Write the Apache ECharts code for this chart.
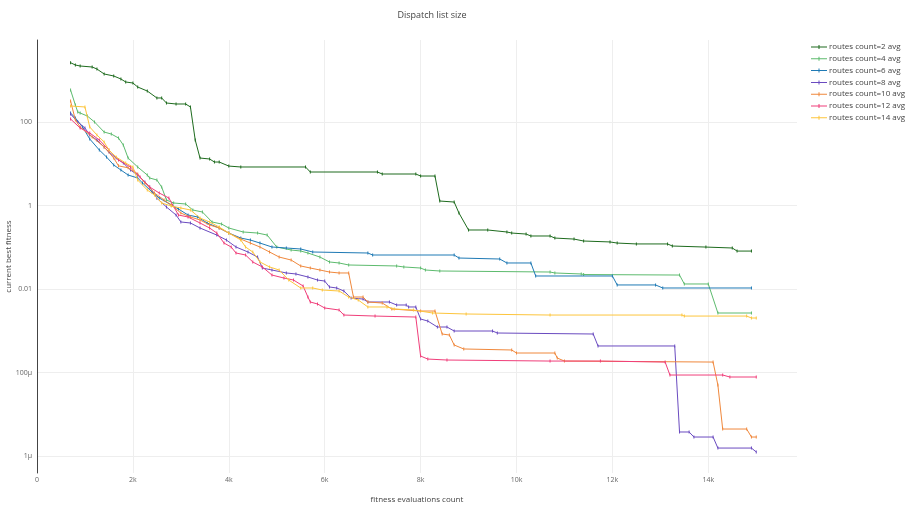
<!DOCTYPE html>
<html>
<head>
<meta charset="utf-8">
<script src="https://cdn.jsdelivr.net/npm/echarts@6/dist/echarts.min.js"></script>
<style>
  html, body { margin: 0; padding: 0; background: #fff; }
  #chart { width: 917px; height: 507px; }
</style>
</head>
<body>
<div id="chart"></div>
<script>
// Average best fitness per fitness-evaluation count, one run set per routes count.
const seriesNames = [
  'routes count=2 avg', 'routes count=4 avg', 'routes count=6 avg',
  'routes count=8 avg', 'routes count=10 avg', 'routes count=12 avg',
  'routes count=14 avg'
];
const seriesColors = ['#1e6b1e', '#5dbb6e', '#1f7ab5', '#6a4bc0', '#f0883c', '#f03e7a', '#fdc53c'];

const xTicks = [0, 2000, 4000, 6000, 8000, 10000, 12000, 14000];
const yTicks = [1e-6, 1e-4, 1e-2, 1, 100];

const routes2 = [[700,2630],[800,2317],[900,2193],[1150,2075],[1250,1858],[1400,1413],[1600,1265],[1750,1072],[1850,908],[2000,859],[2100,689],[2300,552],[2500,376],[2600,376],[2700,285],[2900,270],[3100,270],[3200,229],[3300,37],[3400,13.7],[3600,13.0],[3700,11.0],[3800,11.0],[4000,8.8],[4250,8.36],[5600,8.36],[5700,6.34],[7100,6.34],[7200,5.68],[7900,5.68],[8000,5.08],[8300,5.08],[8400,1.28],[8700,1.21],[8800,0.66],[9000,0.259],[9400,0.259],[9800,0.232],[9900,0.219],[10200,0.207],[10300,0.186],[10700,0.186],[10800,0.166],[11200,0.157],[11400,0.141],[11950,0.134],[12100,0.126],[12500,0.120],[13150,0.120],[13250,0.107],[13950,0.101],[14500,0.096],[14600,0.081],[14900,0.081]];

const routes4 = [[700,583],[800,255],[850,173],[900,164],[1050,139],[1200,100],[1400,57.5],[1550,51.5],[1700,41.4],[1800,28.1],[1900,13.7],[2100,8.36],[2300,5.37],[2350,4.56],[2500,4.08],[2600,2.77],[2700,1.355],[2850,1.148],[3100,1.086],[3250,0.78],[3450,0.698],[3650,0.403],[3850,0.36],[4000,0.289],[4300,0.232],[4600,0.219],[4800,0.196],[5000,0.1014],[5300,0.0859],[5500,0.0813],[5650,0.0728],[5900,0.0583],[6100,0.0444],[6300,0.042],[6500,0.0376],[7500,0.0356],[7650,0.0337],[8000,0.0318],[8100,0.0285],[8400,0.027],[10700,0.0255],[10800,0.0242],[11350,0.0229],[11400,0.0222],[13400,0.0216],[13500,0.0132],[14000,0.0132],[14200,0.00266],[14900,0.00266]];

const routes6 = [[700,164],[800,125],[950,75.9],[1100,39.2],[1300,21.3],[1450,14.5],[1600,9.33],[1750,7.08],[1900,5.37],[2100,4.56],[2200,3.46],[2400,2.10],[2550,1.51],[2800,1.03],[2950,0.824],[3150,0.592],[3350,0.53],[3550,0.381],[3800,0.289],[4000,0.219],[4250,0.166],[4450,0.149],[4650,0.126],[4900,0.1014],[5200,0.096],[5500,0.0908],[5750,0.0769],[6900,0.0728],[7000,0.0652],[8700,0.0652],[8800,0.0552],[9650,0.0523],[9800,0.042],[10300,0.042],[10400,0.0205],[12000,0.0205],[12100,0.0125],[12900,0.0125],[13050,0.01057],[14900,0.01057]];

const routes8 = [[700,155],[850,100],[1000,71.8],[1100,48.8],[1250,37.1],[1400,25.2],[1500,19.1],[1650,13.7],[1800,10.4],[1950,7.08],[2100,5.37],[2250,3.66],[2350,2.77],[2500,1.5],[2700,0.92],[2900,0.592],[3000,0.403],[3200,0.381],[3400,0.289],[3750,0.196],[3950,0.149],[4150,0.1014],[4400,0.0769],[4600,0.0583],[4700,0.0318],[4900,0.0285],[5200,0.0242],[5400,0.0229],[5650,0.0194],[5850,0.0164],[6000,0.0155],[6100,0.01117],[6250,0.01057],[6400,0.00895],[6550,0.00608],[6800,0.00575],[6900,0.00488],[7350,0.00488],[7500,0.00414],[7700,0.00414],[7750,0.00371],[7900,0.00371],[8000,0.00191],[8150,0.00171],[8350,0.00123],[8550,0.00123],[8700,0.000986],[9500,0.000986],[9600,0.000883],[11600,0.000836],[11700,0.000432],[13300,0.000432],[13400,3.76e-6],[13600,3.76e-6],[13700,2.85e-6],[14100,2.85e-6],[14200,1.55e-6],[14900,1.55e-6],[15000,1.25e-6]];

const routes10 = [[700,318],[800,112],[900,75.9],[1150,43.7],[1400,25.2],[1600,13.7],[1700,8.9],[1900,8.0],[2100,5.68],[2250,3.46],[2450,1.99],[2650,1.355],[2800,1.03],[3000,0.66],[3200,0.53],[3400,0.45],[3600,0.341],[3800,0.289],[4000,0.219],[4250,0.157],[4450,0.126],[4650,0.1014],[4850,0.0769],[5050,0.0583],[5300,0.0494],[5500,0.0356],[5700,0.0318],[5900,0.0285],[6100,0.0255],[6300,0.0242],[6500,0.0242],[6600,0.00643],[6800,0.00643],[6900,0.00488],[7200,0.00462],[7400,0.00332],[8000,0.00297],[8300,0.00297],[8450,0.000836],[8600,0.000791],[8700,0.000456],[8900,0.000366],[9900,0.000346],[10000,0.000293],[10800,0.000293],[10850,0.000222],[11000,0.000188],[14100,0.000178],[14200,5.0e-5],[14300,4.43e-6],[14800,4.43e-6],[14900,2.85e-6],[15000,2.85e-6]];

const routes12 = [[700,118],[900,71.8],[1100,54.5],[1300,37.1],[1500,21.3],[1700,12.3],[1950,8.36],[2150,4.81],[2350,2.77],[2550,1.99],[2750,1.51],[2950,0.592],[3150,0.53],[3400,0.381],[3600,0.289],[3750,0.219],[3900,0.126],[4050,0.1014],[4150,0.0728],[4350,0.0652],[4500,0.0444],[4700,0.0337],[4900,0.0216],[5150,0.0183],[5350,0.0164],[5550,0.0118],[5650,0.00643],[5700,0.00488],[5850,0.00438],[6000,0.00351],[6300,0.00314],[6400,0.00238],[7050,0.00225],[7900,0.00213],[8000,0.000248],[8150,0.00021],[8550,0.000199],[10700,0.000188],[11750,0.000188],[13100,0.000178],[13200,8.7e-5],[14300,8.7e-5],[14450,7.8e-5],[15000,7.8e-5]];

const routes14 = [[700,242],[1000,229],[1100,75.9],[1250,48.8],[1400,33.2],[1500,21.3],[1650,14.5],[1850,10.4],[2000,8.36],[2100,4.08],[2300,2.35],[2450,1.78],[2600,1.148],[2800,0.973],[3000,0.871],[3200,0.78],[3400,0.501],[3600,0.403],[3800,0.305],[4000,0.219],[4250,0.149],[4350,0.1014],[4500,0.0769],[4650,0.0444],[4850,0.0337],[5050,0.0285],[5250,0.0164],[5500,0.01057],[5750,0.01057],[5950,0.00946],[6300,0.00895],[6500,0.00643],[6700,0.00545],[6900,0.00371],[7300,0.00371],[7450,0.00332],[7850,0.00314],[8250,0.00266],[8950,0.00252],[10700,0.00238],[13450,0.00238],[13500,0.00225],[14800,0.00225],[14900,0.00202],[15000,0.00202]];

const seriesData = [routes2, routes4, routes6, routes8, routes10, routes12, routes14];

// SI-style tick text: 100, 1, 0.01, 100μ, 1μ
function siLabel(v) {
  if (v >= 0.01) return String(+v.toPrecision(3));
  const e = Math.round(Math.log10(v));
  if (e <= -4 && e >= -6) return String(Math.pow(10, e + 6).toFixed(0)) + 'μ';
  return String(v);
}

// Legend glyph: short line with a small tick in the middle
const legendIcon = 'path://M0,3.5H16V4.5H0Z M7.5,2H8.5V6H7.5Z';

const chart = echarts.init(document.getElementById('chart'), null, { renderer: 'canvas' });

chart.setOption({
  animation: false,
  backgroundColor: '#fff',
  color: seriesColors,
  title: {
    text: 'Dispatch list size',
    left: 427,
    top: 6,
    textAlign: 'center',
    textStyle: { fontSize: 9, fontWeight: 'normal', color: '#444', fontFamily: 'Open Sans' }
  },
  legend: {
    orient: 'vertical',
    left: 806,
    top: 38,
    itemGap: 3.8,
    itemWidth: 16,
    itemHeight: 8,
    icon: legendIcon,
    textStyle: { fontSize: 8, color: '#444', fontFamily: 'Open Sans', padding: [0, 0, 0, -3] },
    data: seriesNames
  },
  grid: { left: 37, right: 120, top: 40, bottom: 34, outerBoundsMode: 'none', containLabel: false },
  xAxis: {
    type: 'value',
    min: 0,
    max: 15850,
    name: 'fitness evaluations count',
    nameLocation: 'middle',
    nameGap: 23,
    nameMoveOverlap: false,
    nameTextStyle: { fontSize: 8, color: '#444', fontFamily: 'Open Sans' },
    axisLine: { show: false },
    axisTick: { show: false, customValues: xTicks },
    axisLabel: {
      customValues: xTicks,
      fontSize: 7, color: '#666', margin: 3, fontFamily: 'Open Sans',
      formatter: v => v === 0 ? '0' : (v / 1000) + 'k'
    },
    splitLine: { show: true, lineStyle: { color: '#eee', width: 1 } }
  },
  yAxis: {
    type: 'log',
    logBase: 10,
    min: Math.pow(10, -6.407),
    max: Math.pow(10, 3.964),
    name: 'current best fitness',
    nameLocation: 'middle',
    nameGap: 24,
    nameMoveOverlap: false,
    nameTextStyle: { fontSize: 8, color: '#444', fontFamily: 'Open Sans' },
    axisLine: { show: true, lineStyle: { color: '#444', width: 1 } },
    axisTick: { show: false, customValues: yTicks },
    axisLabel: {
      customValues: yTicks,
      fontSize: 7, color: '#666', margin: 5, fontFamily: 'Open Sans',
      formatter: siLabel
    },
    splitLine: { show: true, lineStyle: { color: '#eee', width: 1 } }
  },
  series: seriesData.map((d, i) => ({
    name: seriesNames[i],
    type: 'line',
    data: d,
    symbol: 'rect',
    symbolSize: [1, 3],
    showSymbol: true,
    lineStyle: { width: 1 },
    itemStyle: { color: seriesColors[i] },
    z: 2 + i
  }))
});
</script>
</body>
</html>
